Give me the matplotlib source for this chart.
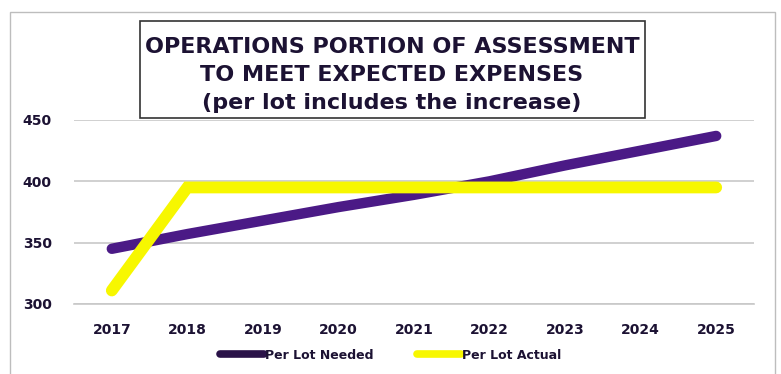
import matplotlib.pyplot as plt
from matplotlib.patches import Rectangle

# data
years = ["2017", "2018", "2019", "2020", "2021", "2022", "2023", "2024", "2025"]
per_lot_needed = [345, 357, 368, 379, 389, 400, 413, 425, 437]
per_lot_actual = [311, 395, 395, 395, 395, 395, 395, 395, 395]

purple = "#4b1a86"
yellow = "#f7f700"
text_col = "#1c1233"

fig = plt.figure(figsize=(7.81, 3.74), dpi=100)
ax = fig.add_axes([0.0948, 0.1872, 0.8706, 0.492])

x = list(range(len(years)))
ax.plot(x, per_lot_needed, color=purple, lw=7.5, solid_capstyle="round",
        solid_joinstyle="round", label="Per Lot Needed", zorder=3)
ax.plot(x, per_lot_actual, color=yellow, lw=8.5, solid_capstyle="round",
        solid_joinstyle="miter", label="Per Lot Actual", zorder=4)

ax.set_xlim(-0.5, len(years) - 0.5)
ax.set_ylim(300, 450)
ax.set_yticks([300, 350, 400, 450])
ax.set_xticks(x)
ax.set_xticklabels(years)
ax.grid(axis="y", color="#c8c8c8", lw=1.2)
ax.set_axisbelow(True)
for s in ["top", "right", "left"]:
    ax.spines[s].set_visible(False)
ax.spines["bottom"].set_color("#c8c8c8")
ax.spines["bottom"].set_linewidth(1.2)
ax.tick_params(length=0, labelsize=10, labelcolor=text_col, pad=14)
ax.tick_params(axis="y", pad=16)
for t in ax.get_xticklabels() + ax.get_yticklabels():
    t.set_fontweight("bold")

leg = fig.legend(loc="center", bbox_to_anchor=(0.5, 0.05), ncol=2, frameon=False,
                 prop={"weight": "bold", "size": 9}, handlelength=3.5,
                 handletextpad=0.1, columnspacing=3.5, labelcolor=text_col)
for h in leg.legend_handles:
    h.set_linewidth(5.5)
leg.legend_handles[0].set_color("#2a1248")

# title box
fig.patches.append(Rectangle((140 / 781, 1 - 118 / 374), 505 / 781, 97 / 374,
                             transform=fig.transFigure, fill=False,
                             edgecolor="#333333", lw=1.2))
fig.text(392 / 781, 1 - 75 / 374,
         "OPERATIONS PORTION OF ASSESSMENT\nTO MEET EXPECTED EXPENSES\n(per lot includes the increase)",
         ha="center", va="center", fontsize=16, fontweight="bold",
         color=text_col, linespacing=1.5)

# outer chart frame
fig.patches.append(Rectangle((10 / 781, -0.01), 765 / 781, 1 - 12 / 374 + 0.01,
                             transform=fig.transFigure, fill=False,
                             edgecolor="#bdbdbd", lw=1))

plt.savefig("out.png", dpi=100)
